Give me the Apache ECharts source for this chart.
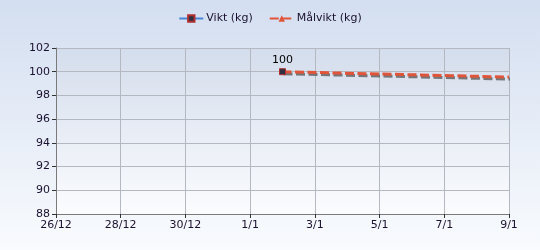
<!DOCTYPE html>
<html><head><meta charset="utf-8">
<script src="https://cdn.jsdelivr.net/npm/echarts@6/dist/echarts.min.js"></script>
<style>html,body{margin:0;padding:0;}#c{width:540px;height:250px;}</style>
</head><body><div id="c"></div>
<script>
// Data
const startDate = '2023-12-26';
const tickLabels = ['26/12','28/12','30/12','1/1','3/1','5/1','7/1','9/1'];
const viktDates = ['2024-01-02'];
const viktValues = [100];
const malDates = ['2024-01-02','2024-01-09'];
const malValues = [100, 99.55];
const seriesNames = ['Vikt (kg)', 'Målvikt (kg)'];

const DAY = 86400000;
const t0 = Date.parse(startDate + 'T00:00:00Z');
const dayOf = d => Math.round((Date.parse(d + 'T00:00:00Z') - t0) / DAY);

const chart = echarts.init(document.getElementById('c'));
const font = 'DejaVu Sans';
chart.setOption({
  animation: false,
  backgroundColor: new echarts.graphic.LinearGradient(0,0,0,1,[{offset:0,color:'#d3def0'},{offset:1,color:'#f9fbfe'}]),
  textStyle: {fontFamily: font},
  legend: {
    top: 8, left: 'center', itemWidth: 24, itemHeight: 8, itemGap: 16,
    textStyle: {fontFamily: font, fontSize: 11, color: '#1a1030', padding: [0,0,0,-2]},
    data: seriesNames
  },
  grid: {
    left: 56, right: 31, top: 48, bottom: 36, show: true, borderWidth: 0,
    backgroundColor: new echarts.graphic.LinearGradient(0,0,0,1,[{offset:0,color:'#d4ddec'},{offset:1,color:'#fbfcfe'}])
  },
  xAxis: {
    type: 'value', min: 0, max: 14, interval: 2,
    axisLine: {show: true, lineStyle: {color: '#7a7a7a', width: 1}},
    axisTick: {show: true, length: 4, lineStyle: {color: '#333'}},
    axisLabel: {fontFamily: font, fontSize: 11, color: '#1a1030', margin: 6,
      formatter: v => tickLabels[Math.round(v/2)] || ''},
    splitLine: {show: true, lineStyle: {color: '#b4b8c0', width: 1}}
  },
  yAxis: {
    type: 'value', min: 88, max: 102, interval: 2,
    axisLine: {show: true, lineStyle: {color: '#7a7a7a', width: 1}},
    axisTick: {show: true, length: 4, lineStyle: {color: '#333'}},
    axisLabel: {fontFamily: font, fontSize: 11, color: '#1a1030', margin: 6},
    splitLine: {show: true, lineStyle: {color: '#b4b8c0', width: 1}}
  },
  series: [
    {
      name: seriesNames[1], type: 'line', z: 2,
      data: malDates.map((d,i) => [dayOf(d), malValues[i]]),
      showSymbol: false, symbol: 'triangle', symbolSize: 6,
      itemStyle: {color: '#e0553a'},
      lineStyle: {color: '#e0553a', width: 3, type: [9,3.5],
        shadowColor: 'rgba(90,90,90,0.8)', shadowOffsetX: 1, shadowOffsetY: 2, shadowBlur: 0}
    },
    {
      name: seriesNames[0], type: 'line', z: 3,
      data: viktDates.map((d,i) => [dayOf(d), viktValues[i]]),
      symbol: 'rect', symbolSize: 6, showSymbol: true,
      itemStyle: {color: '#303040', borderColor: '#b03030', borderWidth: 1},
      lineStyle: {color: '#4a86d8', width: 3,
        shadowColor: 'rgba(90,90,90,0.8)', shadowOffsetX: 1, shadowOffsetY: 2, shadowBlur: 0},
      label: {show: true, position: 'top', distance: 3, fontFamily: font, fontSize: 11, color: '#000'}
    }
  ]
});
</script></body></html>
